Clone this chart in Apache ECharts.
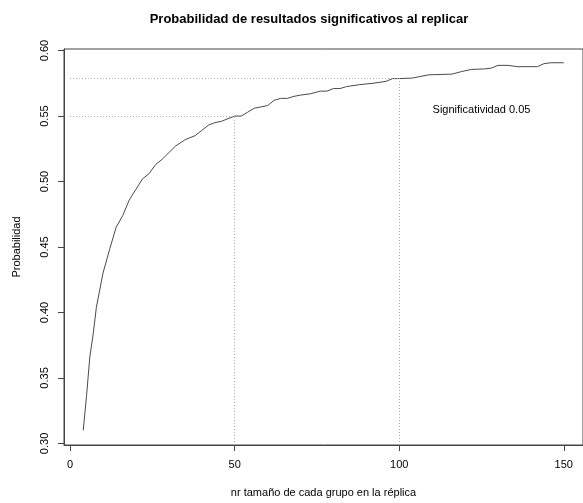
<!DOCTYPE html>
<html>
<head>
<meta charset="utf-8">
<script src="https://cdn.jsdelivr.net/npm/echarts@6/dist/echarts.min.js"></script>
<style>
  html, body { margin: 0; padding: 0; background: #fff; }
  #chart { width: 583px; height: 503px; }
</style>
</head>
<body>
<div id="chart"></div>
<script>
// tamaño de grupo n y probabilidad estimada
var groupSize = [4, 5, 6, 7, 8, 10, 12, 14, 16, 18, 20, 22, 24, 26, 28, 30, 32, 35, 38, 40,
  42, 44, 46, 48, 50, 52, 54, 56, 58, 60, 62, 64, 66, 68, 70, 73, 76, 78, 80, 82,
  84, 88, 92, 96, 98, 100, 104, 106, 109, 116, 119, 122, 126, 128, 130, 133, 136, 142, 144, 146, 150];
var probability = [0.310, 0.336, 0.366, 0.383, 0.404, 0.430, 0.448, 0.465, 0.474, 0.486, 0.494, 0.502, 0.506, 0.513, 0.517, 0.522, 0.527, 0.532, 0.535, 0.539,
  0.543, 0.545, 0.546, 0.548, 0.550, 0.550, 0.553, 0.556, 0.557, 0.558, 0.562, 0.5635, 0.5635, 0.565, 0.566, 0.567, 0.569, 0.569, 0.571, 0.571,
  0.5725, 0.574, 0.575, 0.5765, 0.5786, 0.5786, 0.579, 0.580, 0.5815, 0.582, 0.584, 0.5856, 0.586, 0.5866, 0.5887, 0.5887, 0.5877, 0.5877, 0.590, 0.5907, 0.5907];

var xTicks = [0, 50, 100, 150];
var yTicks = [0.30, 0.35, 0.40, 0.45, 0.50, 0.55, 0.60];

// líneas de referencia punteadas
var refN = [50, 100];
var refP = [0.55, 0.5788];

var xMin = -1.84, xMax = 155.84;
var yMin = 0.2988, yMax = 0.6012;

var font = 'Liberation Sans, Arial, Helvetica, sans-serif';

var refLines = [];
refN.forEach(function (n, i) {
  refLines.push([{ coord: [0, refP[i]] }, { coord: [n, refP[i]] }]);
  refLines.push([{ coord: [n, yMin] }, { coord: [n, refP[i]] }]);
});

var chart = echarts.init(document.getElementById('chart'));
chart.setOption({
  animation: false,
  backgroundColor: '#fff',
  textStyle: { fontFamily: font },
  grid: {
    left: 64, top: 49, width: 521, height: 400,
    show: true, borderColor: '#444', borderWidth: 1, backgroundColor: 'transparent'
  },
  graphic: [
    {
      type: 'text', x: 309, y: 13,
      style: {
        text: 'Probabilidad de resultados significativos al replicar',
        font: 'bold 13px ' + font, fill: '#000', align: 'center'
      }
    }
  ],
  xAxis: {
    type: 'value', min: xMin, max: xMax,
    name: 'nr tamaño de cada grupo en la réplica',
    nameLocation: 'middle', nameGap: 42,
    nameTextStyle: { fontSize: 11, color: '#000', fontFamily: font },
    axisLine: { show: true, onZero: false, lineStyle: { color: '#444', width: 1 } },
    axisTick: { show: true, customValues: xTicks, length: 6, lineStyle: { color: '#444' } },
    axisLabel: { customValues: xTicks, fontSize: 11, color: '#000', margin: 14 },
    splitLine: { show: false }
  },
  yAxis: {
    type: 'value', min: yMin, max: yMax,
    name: 'Probabilidad',
    nameLocation: 'middle', nameGap: 42, nameRotate: 90,
    nameTextStyle: { fontSize: 11, color: '#000', fontFamily: font },
    axisLine: { show: true, onZero: false, lineStyle: { color: '#444', width: 1 } },
    axisTick: { show: true, customValues: yTicks, length: 6, lineStyle: { color: '#444' } },
    axisLabel: {
      customValues: yTicks, fontSize: 11, color: '#000', rotate: 90, margin: 14,
      formatter: function (v) { return v.toFixed(2); }
    },
    splitLine: { show: false }
  },
  series: [
    {
      type: 'line',
      data: groupSize.map(function (n, i) { return [n, probability[i]]; }),
      showSymbol: false,
      lineStyle: { color: '#4a4a4a', width: 1 },
      silent: true,
      markLine: {
        silent: true,
        symbol: 'none',
        label: { show: false },
        lineStyle: { color: '#aaa', type: [1, 2], width: 1 },
        data: refLines
      },
      markPoint: {
        silent: true,
        symbol: 'circle', symbolSize: 1,
        itemStyle: { color: 'rgba(0,0,0,0)' },
        label: {
          show: true, position: 'inside', color: '#000', fontSize: 11,
          formatter: 'Significatividad 0.05'
        },
        data: [{ coord: [125, 0.555] }]
      }
    }
  ]
});
</script>
</body>
</html>
